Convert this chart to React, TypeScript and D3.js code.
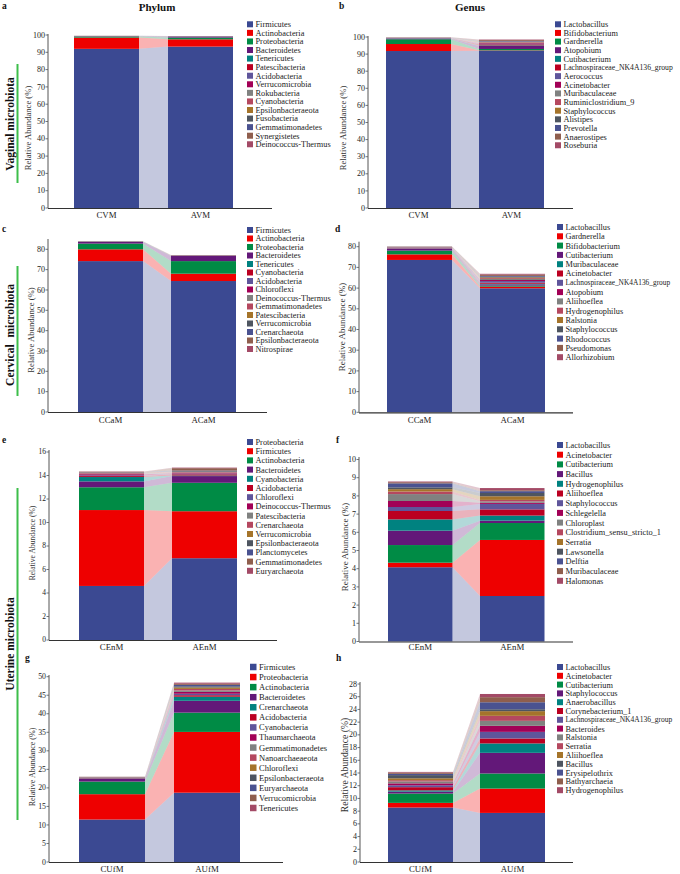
import React from "react";
import * as d3 from "d3";

const COLORS = [
  "#3B4992", "#EE0000", "#008B45", "#631879", "#008280",
  "#BB0021", "#5F559B", "#A20056", "#808180", "#B5485F",
  "#A5742A", "#4E5560", "#4A5290", "#8F5E4D", "#A34A66",
];

// ---------- Panel a: Vaginal, Phylum ----------
const groupsA = ["CVM", "AVM"];
const taxaA = ["Firmicutes", "Actinobacteria", "Proteobacteria", "Bacteroidetes", "Tenericutes", "Patescibacteria", "Acidobacteria", "Verrucomicrobia", "Rokubacteria", "Cyanobacteria", "Epsilonbacteraeota", "Fusobacteria", "Gemmatimonadetes", "Synergistetes", "Deinococcus-Thermus"];
const valuesA1 = [92.0, 6.5, 0.6, 0.1, 0.05, 0.05, 0.05, 0.05, 0.02, 0.02, 0.02, 0.02, 0.02, 0.02, 0.02];
const valuesA2 = [93.3, 4.2, 1.0, 0.5, 0.1, 0.05, 0.05, 0.05, 0.02, 0.02, 0.02, 0.02, 0.02, 0.02, 0.02];
const ticksA = [0, 10, 20, 30, 40, 50, 60, 70, 80, 90, 100];

// ---------- Panel b: Vaginal, Genus ----------
const groupsB = ["CVM", "AVM"];
const taxaB = ["Lactobacillus", "Bifidobacterium", "Gardnerella", "Atopobium", "Cutibacterium", "Lachnospiraceae_NK4A136_group", "Aerococcus", "Acinetobacter", "Muribaculaceae", "Ruminiclostridium_9", "Staphylococcus", "Alistipes", "Prevotella", "Anaerostipes", "Roseburia"];
const valuesB1 = [91.8, 4.1, 2.8, 0.3, 0.15, 0.1, 0.15, 0.05, 0.05, 0.05, 0.05, 0.05, 0.05, 0.05, 0.05];
const valuesB2 = [92.0, 0.2, 0.8, 1.8, 0.3, 0.6, 0.3, 0.4, 0.3, 0.3, 0.2, 0.2, 0.3, 0.5, 0.3];
const ticksB = [0, 10, 20, 30, 40, 50, 60, 70, 80, 90, 100];

// ---------- Panel c: Cervical, Phylum ----------
const groupsC = ["CCaM", "ACaM"];
const taxaC = ["Firmicutes", "Actinobacteria", "Proteobacteria", "Bacteroidetes", "Tenericutes", "Cyanobacteria", "Acidobacteria", "Chloroflexi", "Deinococcus-Thermus", "Gemmatimonadetes", "Patescibacteria", "Verrucomicrobia", "Crenarchaeota", "Epsilonbacteraeota", "Nitrospirae"];
const valuesC1 = [74.2, 5.8, 2.8, 0.8, 0.1, 0.05, 0.05, 0.05, 0.02, 0.02, 0.02, 0.02, 0.02, 0.02, 0.02];
const valuesC2 = [64.4, 3.6, 6.2, 2.5, 0.1, 0.1, 0.05, 0.05, 0.05, 0.02, 0.02, 0.02, 0.02, 0.02, 0.02];
const ticksC = [0, 10, 20, 30, 40, 50, 60, 70, 80];

// ---------- Panel d: Cervical, Genus ----------
const groupsD = ["CCaM", "ACaM"];
const taxaD = ["Lactobacillus", "Gardnerella", "Bifidobacterium", "Cutibacterium", "Muribaculaceae", "Acinetobacter", "Lachnospiraceae_NK4A136_group", "Atopobium", "Aliihoeflea", "Hydrogenophilus", "Ralstonia", "Staphylococcus", "Rhodococcus", "Pseudomonas", "Allorhizobium"];
const valuesD1 = [73.6, 2.7, 1.8, 0.8, 0.1, 0.2, 0.3, 0.1, 0.1, 0.05, 0.05, 0.1, 0.05, 0.1, 0.05];
const valuesD2 = [59.9, 0.8, 0.5, 0.6, 0.3, 0.5, 0.8, 0.5, 0.5, 0.4, 0.4, 0.3, 0.4, 0.6, 0.4];
const ticksD = [0, 10, 20, 30, 40, 50, 60, 70, 80];

// ---------- Panel e: Uterine (endometrium), Phylum ----------
const groupsE = ["CEnM", "AEnM"];
const taxaE = ["Proteobacteria", "Firmicutes", "Actinobacteria", "Bacteroidetes", "Cyanobacteria", "Acidobacteria", "Chloroflexi", "Deinococcus-Thermus", "Patescibacteria", "Crenarchaeota", "Verrucomicrobia", "Epsilonbacteraeota", "Planctomycetes", "Gemmatimonadetes", "Euryarchaeota"];
const valuesE1 = [4.6, 6.46, 1.94, 0.5, 0.37, 0.08, 0.06, 0.1, 0.05, 0.08, 0.02, 0.02, 0.02, 0.02, 0.02];
const valuesE2 = [6.96, 4.0, 2.42, 0.57, 0.05, 0.1, 0.05, 0.05, 0.05, 0.05, 0.02, 0.05, 0.05, 0.2, 0.05];
const ticksE = [0, 2, 4, 6, 8, 10, 12, 14, 16];

// ---------- Panel f: Uterine (endometrium), Genus ----------
const groupsF = ["CEnM", "AEnM"];
const taxaF = ["Lactobacillus", "Acinetobacter", "Cutibacterium", "Bacillus", "Hydrogenophilus", "Aliihoeflea", "Staphylococcus", "Schlegelella", "Chloroplast", "Clostridium_sensu_stricto_1", "Serratia", "Lawsonella", "Delftia", "Muribaculaceae", "Halomonas"];
const valuesF1 = [4.08, 0.25, 0.97, 0.79, 0.62, 0.46, 0.22, 0.33, 0.38, 0.14, 0.13, 0.1, 0.22, 0.06, 0.04];
const valuesF2 = [2.5, 3.08, 0.93, 0.13, 0.28, 0.34, 0.3, 0.06, 0.08, 0.08, 0.2, 0.18, 0.1, 0.05, 0.12];
const ticksF = [0, 1, 2, 3, 4, 5, 6, 7, 8, 9, 10];

// ---------- Panel g: Uterine (fallopian), Phylum ----------
const groupsG = ["CUfM", "AUfM"];
const taxaG = ["Firmicutes", "Proteobacteria", "Actinobacteria", "Bacteroidetes", "Crenarchaeota", "Acidobacteria", "Cyanobacteria", "Thaumarchaeota", "Gemmatimonadetes", "Nanoarchaeaeota", "Chloroflexi", "Epsilonbacteraeota", "Euryarchaeota", "Verrucomicrobia", "Tenericutes"];
const valuesG1 = [11.46, 6.84, 3.4, 0.7, 0.1, 0.1, 0.05, 0.05, 0.05, 0.05, 0.05, 0.05, 0.05, 0.03, 0.02];
const valuesG2 = [18.7, 16.4, 5.2, 3.2, 1.1, 0.4, 0.4, 0.5, 0.4, 0.4, 0.4, 0.3, 0.4, 0.3, 0.3];
const ticksG = [0, 5, 10, 15, 20, 25, 30, 35, 40, 45, 50];

// ---------- Panel h: Uterine (fallopian), Genus ----------
const groupsH = ["CUfM", "AUfM"];
const taxaH = ["Lactobacillus", "Acinetobacter", "Cutibacterium", "Staphylococcus", "Anaerobacillus", "Corynebacterium_1", "Lachnospiraceae_NK4A136_group", "Bacteroides", "Ralstonia", "Serratia", "Aliihoeflea", "Bacillus", "Erysipelothrix", "Bathyarchaeia", "Hydrogenophilus"];
const valuesH1 = [8.57, 0.73, 1.47, 0.3, 0.2, 0.5, 0.3, 0.3, 0.3, 0.2, 0.3, 0.5, 0.2, 0.2, 0.1];
const valuesH2 = [7.72, 3.83, 2.37, 3.25, 1.48, 0.78, 1.04, 0.95, 0.78, 0.79, 0.74, 0.3, 1.1, 0.8, 0.5];
const ticksH = [0, 2, 4, 6, 8, 10, 12, 14, 16, 18, 20, 22, 24, 26, 28];

const SERIF = "'Liberation Serif', 'Times New Roman', serif";

type PanelProps = {
  letter: string; letterX: number; letterY: number;
  groups: string[]; taxa: string[]; v1: number[]; v2: number[]; ticks: number[];
  axisX: number; baseY: number; topTickY: number; axisTopY: number;
  b1: number; b2: number; bw: number; xEnd: number; xLabelY: number;
  legX: number; legY0: number; legStep: number; legFont: number; legSq: number;
  longW?: number;
  titleX: number; titleY: number; titleFont: number; tickFont: number;
};

function Panel(p: PanelProps) {
  const maxTick = p.ticks[p.ticks.length - 1];
  const y = d3.scaleLinear().domain([0, maxTick]).range([p.baseY, p.topTickY]);
  const gap = p.b2 - (p.b1 + p.bw);
  const x = d3.scaleBand<string>()
    .domain(p.groups)
    .range([p.b1, p.b2 + p.bw])
    .paddingInner(gap / (p.bw + gap))
    .paddingOuter(0);
  const rows = p.groups.map((g, gi) => {
    const o: Record<string, number | string> = { group: g };
    p.taxa.forEach((t, i) => { o[t] = gi === 0 ? p.v1[i] : p.v2[i]; });
    return o;
  });
  const stack = d3.stack<Record<string, number | string>>().keys(p.taxa)(rows as any);
  const bw = x.bandwidth();
  const x1 = (x(p.groups[0]) as number) + bw;
  const x2 = x(p.groups[1]) as number;
  const area = d3.area<[number, number, number]>().x(d => d[0]).y0(d => d[1]).y1(d => d[2]);
  return (
    <g>
      <text x={p.letterX} y={p.letterY} fontFamily={SERIF} fontWeight="bold" fontSize={9.5} fill="#111">{p.letter}</text>
      {stack.map((s, i) => (
        <path key={"r" + i}
          d={area([[x1, y(s[0][0]), y(s[0][1])], [x2, y(s[1][0]), y(s[1][1])]]) || ""}
          fill={COLORS[i]} fillOpacity={0.3} />
      ))}
      {stack.map((s, i) => s.map((d, j) => (
        <rect key={"b" + i + "-" + j}
          x={x(p.groups[j])} width={bw}
          y={y(d[1])} height={Math.max(0, y(d[0]) - y(d[1]))}
          fill={COLORS[i]} />
      )))}
      <line x1={p.axisX} x2={p.axisX} y1={p.baseY} y2={p.axisTopY} stroke="#555" strokeWidth={1} />
      {p.ticks.map(t => (
        <g key={"t" + t}>
          <line x1={p.axisX - 2.5} x2={p.axisX} y1={y(t)} y2={y(t)} stroke="#555" strokeWidth={0.8} />
          <text x={p.axisX - 3} y={y(t)} dy="0.33em" textAnchor="end" fontFamily={SERIF} fontSize={p.tickFont} fill="#222">{t}</text>
        </g>
      ))}
      <line x1={p.axisX} x2={p.xEnd} y1={p.baseY + 0.5} y2={p.baseY + 0.5} stroke="#333" strokeWidth={1.2} />
      {p.groups.map(g => (
        <text key={"x" + g} x={(x(g) as number) + bw / 2} y={p.xLabelY} textAnchor="middle" fontFamily={SERIF} fontSize={8.8} fill="#222">{g}</text>
      ))}
      <text transform={`translate(${p.titleX},${p.titleY}) rotate(-90)`} textAnchor="middle" dy="0.33em"
        fontFamily={SERIF} fontSize={p.titleFont} fill="#333">Relative Abundance (%)</text>
      {p.taxa.map((t, i) => {
        const long = t.length > 26 && p.longW;
        return (
          <g key={"l" + t}>
            <rect x={p.legX} y={p.legY0 + i * p.legStep - p.legSq / 2} width={p.legSq} height={p.legSq} fill={COLORS[i]} />
            <text x={p.legX + p.legSq + 2.5} y={p.legY0 + i * p.legStep} dy="0.35em" fontFamily={SERIF}
              fontSize={long ? (p.longW as number) / 14.4 : p.legFont} fill="#222">{t}</text>
          </g>
        );
      })}
    </g>
  );
}

export default function App() {
  return (
    <svg width={680} height={874} style={{ position: "absolute", left: 0, top: 0, background: "#fff" }}>
      <rect width={680} height={874} fill="#fff" />
      <text x={157} y={11} textAnchor="middle" fontFamily={SERIF} fontWeight="bold" fontSize={11} fill="#111">Phylum</text>
      <text x={470} y={11} textAnchor="middle" fontFamily={SERIF} fontWeight="bold" fontSize={11} fill="#111">Genus</text>

      <text transform="translate(14,124) rotate(-90)" textAnchor="middle" fontFamily={SERIF} fontWeight="bold" fontSize={11.5} fill="#111">Vaginal microbiota</text>
      <line x1={17.5} x2={17.5} y1={64} y2={183} stroke="#3DBE4A" strokeWidth={2} />
      <text transform="translate(14,335) rotate(-90)" textAnchor="middle" fontFamily={SERIF} fontWeight="bold" fontSize={11.5} fill="#111" wordSpacing="4">Cervical microbiota</text>
      <line x1={17.5} x2={17.5} y1={266} y2={396} stroke="#3DBE4A" strokeWidth={2} />
      <text transform="translate(14,644) rotate(-90)" textAnchor="middle" fontFamily={SERIF} fontWeight="bold" fontSize={11.5} fill="#111">Uterine microbiota</text>
      <line x1={17.5} x2={17.5} y1={488} y2={820} stroke="#3DBE4A" strokeWidth={2} />

      <Panel letter="a" letterX={2} letterY={9} groups={groupsA} taxa={taxaA} v1={valuesA1} v2={valuesA2} ticks={ticksA}
        axisX={48} baseY={208} topTickY={35} axisTopY={34} b1={74} b2={168} bw={65} xEnd={272} xLabelY={218}
        legX={247} legY0={24.3} legStep={8.57} legFont={8.3} legSq={6}
        titleX={28} titleY={128} titleFont={8.6} tickFont={8} />
      <Panel letter="b" letterX={339} letterY={9} groups={groupsB} taxa={taxaB} v1={valuesB1} v2={valuesB2} ticks={ticksB}
        axisX={368} baseY={208} topTickY={37} axisTopY={36} b1={386} b2={479} bw={65} xEnd={573} xLabelY={218}
        legX={555} legY0={24.3} legStep={8.64} legFont={8.3} legSq={6} longW={111}
        titleX={343} titleY={128} titleFont={8.6} tickFont={8} />
      <Panel letter="c" letterX={2} letterY={232} groups={groupsC} taxa={taxaC} v1={valuesC1} v2={valuesC2} ticks={ticksC}
        axisX={48} baseY={412} topTickY={249.3} axisTopY={239} b1={78} b2={171} bw={65} xEnd={267} xLabelY={423}
        legX={247} legY0={230} legStep={8.5} legFont={8.3} legSq={6}
        titleX={31} titleY={330} titleFont={8.7} tickFont={8} />
      <Panel letter="d" letterX={335} letterY={232} groups={groupsD} taxa={taxaD} v1={valuesD1} v2={valuesD2} ticks={ticksD}
        axisX={359} baseY={412.3} topTickY={246.7} axisTopY={241.7} b1={387} b2={480} bw={65} xEnd={573} xLabelY={423}
        legX={557} legY0={227} legStep={9.3} legFont={8.3} legSq={6} longW={106}
        titleX={342} titleY={327} titleFont={9} tickFont={8} />
      <Panel letter="e" letterX={2} letterY={443} groups={groupsE} taxa={taxaE} v1={valuesE1} v2={valuesE2} ticks={ticksE}
        axisX={49} baseY={640} topTickY={452} axisTopY={450} b1={79} b2={172} bw={65} xEnd={277} xLabelY={650}
        legX={247} legY0={442} legStep={9.2} legFont={8.3} legSq={6}
        titleX={32} titleY={543} titleFont={7.6} tickFont={7.5} />
      <Panel letter="f" letterX={336} letterY={443} groups={groupsF} taxa={taxaF} v1={valuesF1} v2={valuesF2} ticks={ticksF}
        axisX={359} baseY={641.5} topTickY={459.5} axisTopY={457} b1={388} b2={480} bw={64.5} xEnd={573} xLabelY={650}
        legX={557} legY0={445} legStep={9.7} legFont={8.3} legSq={6}
        titleX={345} titleY={547} titleFont={9} tickFont={8} />
      <Panel letter="g" letterX={25} letterY={661} groups={groupsG} taxa={taxaG} v1={valuesG1} v2={valuesG2} ticks={ticksG}
        axisX={49} baseY={862} topTickY={676.7} axisTopY={675} b1={79} b2={174} bw={66} xEnd={283} xLabelY={872}
        legX={250} legY0={667} legStep={10.07} legFont={8.5} legSq={6.5}
        titleX={32} titleY={767} titleFont={8} tickFont={7.8} />
      <Panel letter="h" letterX={336} letterY={661} groups={groupsH} taxa={taxaH} v1={valuesH1} v2={valuesH2} ticks={ticksH}
        axisX={360} baseY={862} topTickY={684} axisTopY={682} b1={388} b2={480} bw={65} xEnd={573} xLabelY={872}
        legX={557} legY0={667} legStep={8.8} legFont={8.3} legSq={6} longW={108}
        titleX={345} titleY={765} titleFont={9.6} tickFont={8} />
    </svg>
  );
}
